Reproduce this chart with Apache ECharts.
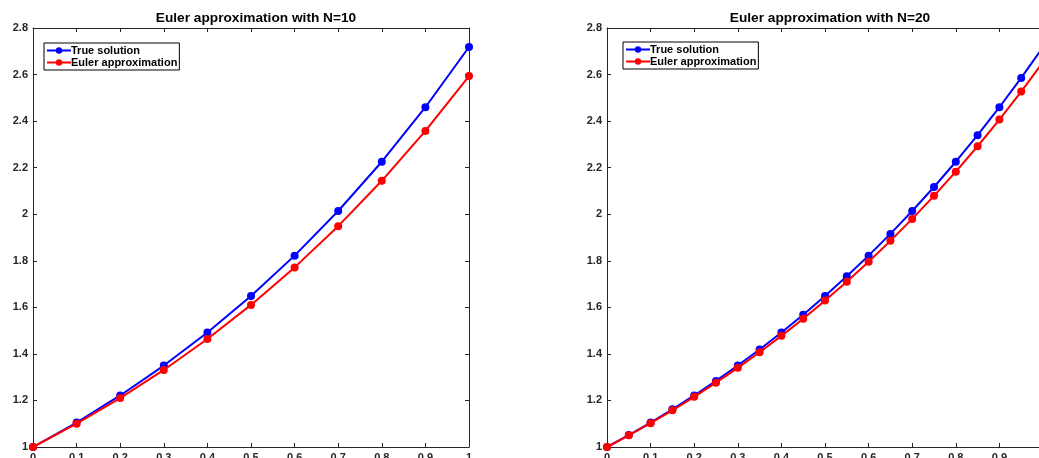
<!DOCTYPE html>
<html>
<head>
<meta charset="utf-8">
<script src="https://cdn.jsdelivr.net/npm/echarts@6/dist/echarts.min.js"></script>
<style>
html,body{margin:0;padding:0;background:#fff;}
#chart{width:1039px;height:458px;}
</style>
</head>
<body>
<div id="chart"></div>
<script>
// ---- data ----
const titles = ["Euler approximation with N=10", "Euler approximation with N=20"];
const seriesNames = ["True solution", "Euler approximation"];
const x10 = [0, 0.1, 0.2, 0.3, 0.4, 0.5, 0.6, 0.7, 0.8, 0.9, 1.0];
const true10 = [1, 1.1052, 1.2214, 1.3499, 1.4918, 1.6487, 1.8221, 2.0138, 2.2255, 2.4596, 2.7183];
const euler10 = [1, 1.1, 1.21, 1.331, 1.4641, 1.6105, 1.7716, 1.9487, 2.1436, 2.3579, 2.5937];
const x20 = [0, 0.05, 0.1, 0.15, 0.2, 0.25, 0.3, 0.35, 0.4, 0.45, 0.5, 0.55, 0.6, 0.65, 0.7, 0.75, 0.8, 0.85, 0.9, 0.95, 1.0];
const true20 = [1, 1.0513, 1.1052, 1.1618, 1.2214, 1.2840, 1.3499, 1.4191, 1.4918, 1.5683, 1.6487, 1.7333, 1.8221, 1.9155, 2.0138, 2.1170, 2.2255, 2.3396, 2.4596, 2.5857, 2.7183];
const euler20 = [1, 1.05, 1.1025, 1.1576, 1.2155, 1.2763, 1.3401, 1.4071, 1.4775, 1.5513, 1.6289, 1.7103, 1.7959, 1.8856, 1.9799, 2.0789, 2.1829, 2.2920, 2.4066, 2.5270, 2.6533];
const xTicks = {min: 0, max: 1, interval: 0.1};
const yTicks = {min: 1, max: 2.8, interval: 0.2};

// ---- build ----
const FONT = '"Liberation Sans", Arial, Helvetica, sans-serif';
const AX = '#262626';
const grids = [
  {left: 33, top: 28, width: 436, height: 419, outerBoundsMode: 'none', containLabel: false},
  {left: 607, top: 28, width: 436, height: 419, outerBoundsMode: 'none', containLabel: false}
];
const legendPos = [{left: 44, top: 43}, {left: 623, top: 42}];
const chart = echarts.init(document.getElementById('chart'), null, {renderer: 'canvas'});

function pair(x, y) { return x.map((v, i) => [v, y[i]]); }

const xAxis = [], yAxis = [], series = [], title = [], legend = [];
const plots = [[x10, true10, euler10], [x20, true20, euler20]];
plots.forEach((p, gi) => {
  const g = grids[gi];
  title.push({
    text: titles[gi], left: g.left + g.width / 2, top: 6, textAlign: 'center',
    textStyle: {fontFamily: FONT, fontSize: 13.7, fontWeight: 'bold', color: '#000'}
  });
  [['bottom', true], ['top', false]].forEach(([pos, lab]) => {
    xAxis.push({
      type: 'value', gridIndex: gi, position: pos, min: xTicks.min, max: xTicks.max, interval: xTicks.interval,
      axisLine: {show: true, onZero: false, lineStyle: {color: AX, width: 1}},
      axisTick: {show: true, inside: true, length: 4, lineStyle: {color: AX}},
      axisLabel: {show: lab, margin: 5, color: AX, fontFamily: FONT, fontSize: 11, fontWeight: 'bold'},
      splitLine: {show: false}
    });
  });
  [['left', true], ['right', false]].forEach(([pos, lab]) => {
    yAxis.push({
      type: 'value', gridIndex: gi, position: pos, min: yTicks.min, max: yTicks.max, interval: yTicks.interval,
      axisLine: {show: true, onZero: false, lineStyle: {color: AX, width: 1}},
      axisTick: {show: true, inside: true, length: 4, lineStyle: {color: AX}},
      axisLabel: {show: lab, margin: 5, color: AX, fontFamily: FONT, fontSize: 11, fontWeight: 'bold'},
      splitLine: {show: false}
    });
  });
  const colors = ['#0000ff', '#ff0000'];
  [p[1], p[2]].forEach((ys, si) => {
    series.push({
      type: 'line', name: seriesNames[si], xAxisIndex: gi * 2, yAxisIndex: gi * 2,
      data: pair(p[0], ys), symbol: 'circle', symbolSize: 8, showSymbol: true,
      lineStyle: {color: colors[si], width: 2}, itemStyle: {color: colors[si]},
      animation: false, silent: true, z: 2 + si
    });
  });
  legend.push({
    left: legendPos[gi].left, top: legendPos[gi].top, orient: 'vertical', itemGap: 1, itemWidth: 24, itemHeight: 8,
    padding: [2, 2, 2, 2], backgroundColor: '#fff', borderColor: '#000', borderWidth: 1, borderRadius: 0,
    textStyle: {fontFamily: FONT, fontSize: 11, fontWeight: 'bold', color: '#000', padding: [0, 0, 0, -5]},
    data: seriesNames.map(n => ({name: n})),
    selectedMode: false
  });
});

chart.setOption({
  backgroundColor: '#fff',
  animation: false,
  title: title,
  grid: grids,
  xAxis: xAxis,
  yAxis: yAxis,
  legend: legend,
  series: series
});
</script>
</body>
</html>
